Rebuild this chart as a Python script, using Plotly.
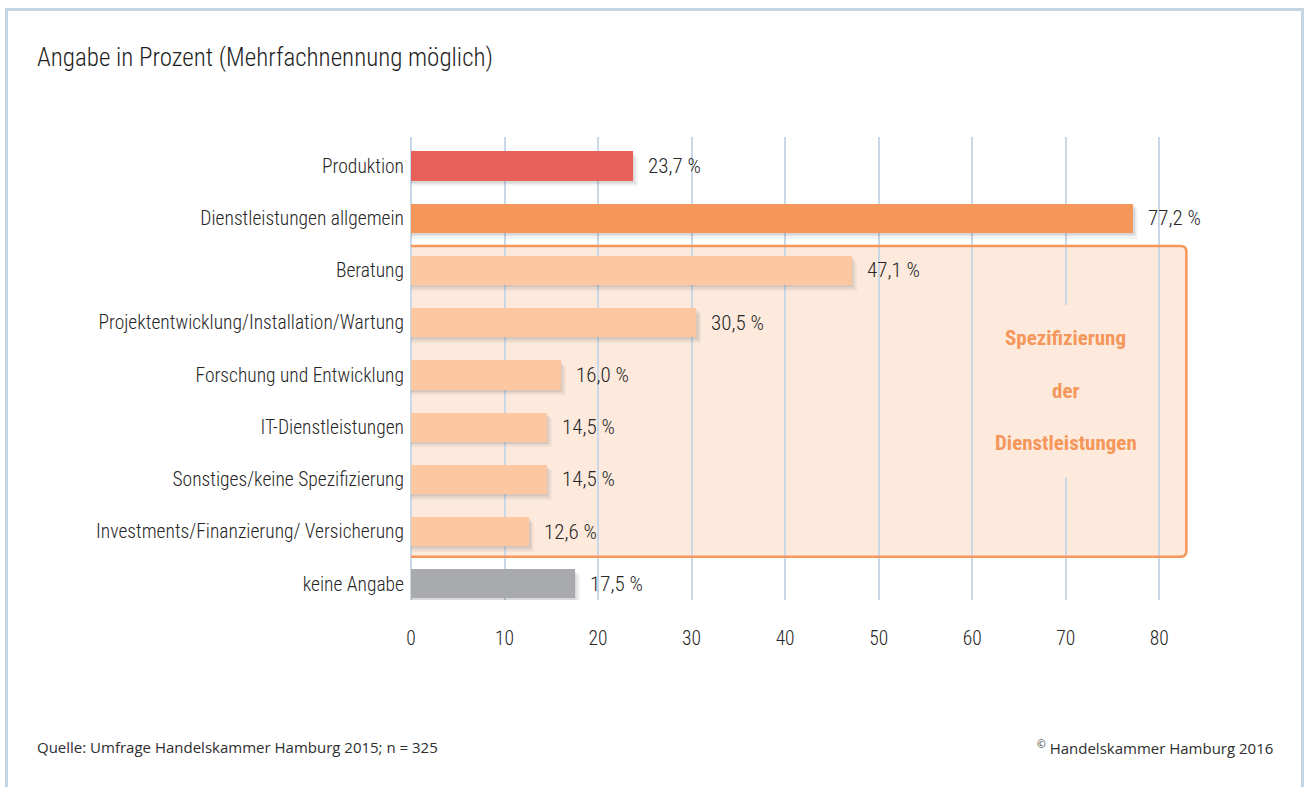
import plotly.graph_objects as go

categories = [
    "Produktion",
    "Dienstleistungen allgemein",
    "Beratung",
    "Projektentwicklung/Installation/Wartung",
    "Forschung und Entwicklung",
    "IT-Dienstleistungen",
    "Sonstiges/keine Spezifizierung",
    "Investments/Finanzierung/ Versicherung",
    "keine Angabe",
]
values = [23.7, 77.2, 47.1, 30.5, 16.0, 14.5, 14.5, 12.6, 17.5]
bar_colors = ["#e8605a", "#f5965a", "#fdc7a1", "#fdc7a1", "#fdc7a1",
              "#fdc7a1", "#fdc7a1", "#fdc7a1", "#a9aaae"]
value_labels = ["23,7 %", "77,2 %", "47,1 %", "30,5 %", "16,0 %",
                "14,5 %", "14,5 %", "12,6 %", "17,5 %"]
x_ticks = [0, 10, 20, 30, 40, 50, 60, 70, 80]
box_text = ["Spezifizierung", "der", "Dienstleistungen"]

W, H = 1304, 787
L, R, T, B = 411, 98, 137, 187
PW = W - L - R
PH = H - T - B
XMAX = 85


def px(x):
    return (x - L) / PW


def py(y):
    return (H - B - y) / PH


FONT = "Roboto Condensed, Liberation Sans Narrow, Arial Narrow, Roboto, sans-serif"
FOOT = "Open Sans, Lato, sans-serif"
GRID = "#c9d8e8"
BOX_FILL = "#fdeadd"
BOX_LINE = "#f5965a"
FRAME = "#c6d5e4"
TXT = "#262626"

ypos = list(range(len(categories)))
bw = 0.56

fig = go.Figure()
# soft shadows
for dx, dy, a in [(0.55, 0.11, 0.06), (0.35, 0.07, 0.08), (0.18, 0.04, 0.08)]:
    fig.add_trace(go.Bar(
        x=[v + dx for v in values], y=[p + dy for p in ypos], orientation="h",
        width=bw, marker=dict(color=f"rgba(60,60,60,{a})", line=dict(width=0)),
        hoverinfo="skip", showlegend=False))
fig.add_trace(go.Bar(
    x=values, y=ypos, orientation="h", width=bw,
    marker=dict(color=bar_colors, line=dict(width=0)),
    showlegend=False))

annotations = []
for v, p, t in zip(values, ypos, value_labels):
    annotations.append(dict(x=v, y=p, xref="x", yref="y", text=t, showarrow=False,
                            xanchor="left", yanchor="middle", xshift=13,
                            font=dict(family=FONT, size=21, color=TXT, weight=300)))

# box (rounded right corners, no left border)
x0, x1 = 0, 82.9
y0, y1 = 1.53, 7.48
rx, ry = 0.6, 0.11
fill_path = (f"M {x0},{y0} L {x1-rx},{y0} Q {x1},{y0} {x1},{y0+ry} "
             f"L {x1},{y1-ry} Q {x1},{y1} {x1-rx},{y1} L {x0},{y1} Z")
line_path = (f"M {x0},{y0} L {x1-rx},{y0} Q {x1},{y0} {x1},{y0+ry} "
             f"L {x1},{y1-ry} Q {x1},{y1} {x1-rx},{y1} L {x0},{y1}")
shapes = [
    dict(type="path", path=fill_path, xref="x", yref="y", fillcolor=BOX_FILL,
         line=dict(width=0), layer="below"),
    dict(type="path", path=line_path, xref="x", yref="y",
         line=dict(color=BOX_LINE, width=2.5), layer="between"),
    dict(type="rect", x0=69.72, x1=70.28, y0=2.66, y1=5.97, xref="x", yref="y",
         fillcolor=BOX_FILL, line=dict(width=0), layer="between"),
    # frame
    dict(type="rect", xref="paper", yref="paper", x0=px(6.5), x1=px(1302.5),
         y0=py(820), y1=py(9.5), line=dict(color=FRAME, width=3),
         fillcolor="rgba(0,0,0,0)"),
]

for t, yy in zip(box_text, [3.29, 4.31, 5.30]):
    annotations.append(dict(x=70, y=yy, xref="x", yref="y", text=f"<b>{t}</b>",
                            showarrow=False, xanchor="center", yanchor="middle",
                            font=dict(family=FONT, size=21, color=BOX_LINE)))

annotations.append(dict(xref="paper", yref="paper", x=px(35), y=py(57),
                        text="Angabe in Prozent (Mehrfachnennung möglich)",
                        showarrow=False, xanchor="left", yanchor="middle",
                        font=dict(family=FONT, size=25, color="#1e1e1e", weight=300)))
annotations.append(dict(xref="paper", yref="paper", x=px(35), y=py(747),
                        text="Quelle: Umfrage Handelskammer Hamburg 2015; n = 325",
                        showarrow=False, xanchor="left", yanchor="middle",
                        font=dict(family=FOOT, size=15, color="#2e2e2e")))
annotations.append(dict(xref="paper", yref="paper", x=px(1275), y=py(747),
                        text="<sup>©</sup> Handelskammer Hamburg 2016",
                        showarrow=False, xanchor="right", yanchor="middle",
                        font=dict(family=FOOT, size=15, color="#2e2e2e")))

fig.update_layout(
    width=W, height=H,
    margin=dict(l=L, r=R, t=T, b=B, pad=0),
    paper_bgcolor="white", plot_bgcolor="white",
    barmode="overlay", bargap=0,
    shapes=shapes, annotations=annotations,
    font=dict(family=FONT, size=19, color=TXT),
    xaxis=dict(range=[0, XMAX], tickvals=x_ticks, showgrid=True, gridcolor=GRID,
               gridwidth=1.5, zeroline=True, zerolinecolor=GRID, zerolinewidth=1.5,
               showline=False, ticks="",
               tickfont=dict(family=FONT, size=19.5, color=TXT, weight=300),
               ticklabelstandoff=24, fixedrange=True),
    yaxis=dict(range=[8.31, -0.555], tickvals=ypos, ticktext=categories,
               showgrid=False, zeroline=False, showline=False, ticks="",
               tickfont=dict(family=FONT, size=19.5, color=TXT, weight=300),
               ticklabelstandoff=6, fixedrange=True),
)

fig.write_html("out.html", config={"displayModeBar": False},
               post_script="document.body.style.margin='0';")
